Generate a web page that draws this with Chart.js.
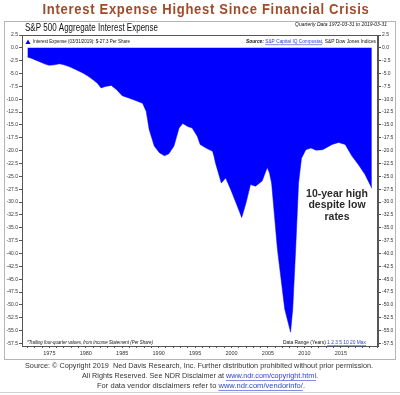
<!DOCTYPE html>
<html>
<head>
<meta charset="utf-8">
<script src="https://cdn.jsdelivr.net/npm/chart.js"></script>
<style>
  html, body { margin: 0; padding: 0; background: #fff; }
</style>
</head>
<body>
<canvas id="chart" width="400" height="395"></canvas>
<script>
'use strict'

// quarterly points (year, $ per share)
const years = [
  1972.0, 1972.5, 1973.0, 1973.5, 1974.0, 1974.5, 1975.0, 1975.7, 1976.4, 1977.0,
  1977.8, 1978.6, 1979.6, 1980.3, 1981.0, 1981.6, 1982.1, 1982.7, 1983.5, 1984.2,
  1985.0, 1986.0, 1987.1, 1987.8, 1988.3, 1988.7, 1989.4, 1990.1, 1990.8, 1991.4,
  1992.1, 1992.8, 1993.3, 1994.0, 1994.6, 1995.3, 1995.7, 1996.5, 1997.4, 1997.6,
  1997.8, 1998.6, 1999.2, 1999.9, 2000.6, 2001.4, 2002.0, 2002.6, 2003.3, 2004.2,
  2004.9, 2005.2, 2005.5, 2006.3, 2007.3, 2008.1, 2008.4, 2008.8, 2009.2, 2009.6,
  2010.2, 2010.9, 2011.6, 2012.5, 2013.8, 2014.7, 2015.6, 2016.5, 2017.4, 2018.3,
  2019.25
]
const interestExpense = [
  -1.8, -2.0, -2.3, -2.6, -2.9, -3.2, -3.4, -3.3, -3.1, -3.3,
  -3.7, -4.2, -4.9, -5.5, -6.2, -6.9, -7.8, -7.5, -7.3, -8.1,
  -9.3, -9.8, -10.4, -10.8, -12.4, -15.9, -19.1, -20.4, -21.0, -20.6,
  -19.1, -15.6, -14.7, -15.3, -15.6, -17.2, -18.8, -19.5, -20.1, -21.1,
  -22.4, -26.3, -25.3, -27.6, -30.1, -33.0, -30.1, -26.6, -26.9, -25.9,
  -23.3, -24.3, -26.3, -39.2, -50.8, -55.3, -50.8, -39.2, -26.3, -21.5,
  -19.8, -19.5, -19.9, -19.8, -18.8, -18.4, -18.8, -21.0, -22.7, -24.6,
  -27.3
]

const yTickValues = [
  2.5, 0, -2.5, -5, -7.5, -10, -12.5, -15, -17.5, -20, -22.5, -25, -27.5,
  -30, -32.5, -35, -37.5, -40, -42.5, -45, -47.5, -50, -52.5, -55, -57.5
]
const yearLabels = [1975, 1980, 1985, 1990, 1995, 2000, 2005, 2010, 2015]

const mainTitle = 'Interest Expense Highest Since Financial Crisis'
const chartTitle = 'S&P 500 Aggregate Interest Expense'
const noteLines = ['10-year high', 'despite low', 'rates']

const BLUE = '#0000ff'
const LINK = '#2b3fd6'
const AXIS = '#555'
const SANS = '"Liberation Sans", Arial, sans-serif'

// draws a row of text pieces; when fitWidth is given the row is squeezed to that width
function drawRuns(ctx, runs, x, y, align, fitWidth) {
  let total = 0
  runs.forEach(r => {
    ctx.font = r.font
    r.w = ctx.measureText(r.text).width
    total += r.w
  })
  const sx = fitWidth ? fitWidth / total : 1
  const width = total * sx
  const startX = align === 'center' ? x - width / 2 : align === 'right' ? x - width : x

  ctx.save()
  ctx.translate(startX, 0)
  ctx.scale(sx, 1)
  ctx.textAlign = 'left'
  ctx.textBaseline = 'middle'
  let cx = 0
  runs.forEach(r => {
    ctx.font = r.font
    ctx.fillStyle = r.color
    ctx.fillText(r.text, cx, y)
    if (r.underline)
      ctx.fillRect(cx, y + r.size * 0.5, r.w, 0.6)
    cx += r.w
  })
  ctx.restore()
}

const small = (text, opts = {}) => ({
  text,
  font: (opts.style || '') + ' 5px ' + SANS,
  color: opts.color || '#111',
  size: 5,
  underline: !!opts.underline
})

const decorations = {
  id: 'decorations',
  beforeDraw(chart) {
    const ctx = chart.ctx
    ctx.save()
    ctx.fillStyle = '#fff'
    ctx.fillRect(0, 0, chart.width, chart.height)
    ctx.restore()
  },
  afterDraw(chart) {
    const ctx = chart.ctx
    const a = chart.chartArea
    ctx.save()

    // plot box and outer frame
    ctx.strokeStyle = AXIS
    ctx.lineWidth = 1
    ctx.strokeRect(a.left + 0.5, a.top + 0.5, a.right - a.left - 1, a.bottom - a.top)
    ctx.strokeStyle = '#b5b5b5'
    ctx.strokeRect(4.5, 21.5, 391, 338)
    ctx.strokeStyle = '#d0d0d0'
    ctx.beginPath()
    ctx.moveTo(0, 392.5)
    ctx.lineTo(400, 392.5)
    ctx.stroke()

    // headline
    ctx.letterSpacing = '0.8px'
    drawRuns(ctx, [{ text: mainTitle, font: 'bold 15px ' + SANS, color: '#a04a2a', size: 15 }], 206, 10, 'center', 327)
    ctx.letterSpacing = '0px'

    drawRuns(ctx, [{ text: chartTitle, font: '10px ' + SANS, color: '#111', size: 10 }], 25, 28.5, 'left', 133)
    drawRuns(ctx, [small('Quarterly Data 1972-03-31 to 2019-03-31', { style: 'italic' })], 387, 25, 'right', 92)

    // legend row
    ctx.fillStyle = BLUE
    ctx.beginPath()
    ctx.moveTo(28, 39.5)
    ctx.lineTo(30.5, 44)
    ctx.lineTo(25.5, 44)
    ctx.closePath()
    ctx.fill()
    drawRuns(ctx, [small('Interest Expense (03/31/2019): $-27.3 Per Share')], 33, 42, 'left', 97)
    drawRuns(ctx, [
      small('Source: ', { style: 'bold italic' }),
      small('S&P Capital IQ Compustat', { color: LINK, underline: true }),
      small(', S&P Dow Jones Indices')
    ], 376, 42, 'right', 130)

    // bottom notes inside the plot
    drawRuns(ctx, [small('*Trailing four-quarter values, from Income Statement (Per Share)', { style: 'italic' })], 27, 343, 'left', 126)
    drawRuns(ctx, [
      small('Data Range (Years) '),
      small('1 2 3 5 10 20 Max', { color: LINK, underline: true })
    ], 283, 343, 'left', 83)

    // annotation
    noteLines.forEach((line, i) => {
      drawRuns(ctx, [{ text: line, font: 'bold 10.5px ' + SANS, color: '#2a2a2a', size: 10.5 }], 337, 194 + i * 11.5, 'center')
    })

    // footer
    const f = '7.2px ' + SANS
    const part = (text, link) => ({ text, font: f, color: link ? LINK : '#333', size: 7.2, underline: link })
    drawRuns(ctx, [part('Source: \u00a9 Copyright 2019  Ned Davis Research, Inc. Further distribution prohibited without prior permission.')], 199, 366, 'center', 348)
    drawRuns(ctx, [
      part('All Rights Reserved. See NDR Disclaimer at '),
      part('www.ndr.com/copyright.html', true),
      part('.')
    ], 200, 376.5, 'center', 236)
    drawRuns(ctx, [
      part('For data vendor disclaimers refer to '),
      part('www.ndr.com/vendorinfo/', true),
      part('.')
    ], 201, 386.5, 'center', 208)

    ctx.restore()
  }
}

const yAxis = position => ({
  position,
  min: -58,
  max: 2.5,
  afterBuildTicks: s => { s.ticks = yTickValues.map(v => ({ value: v })) },
  afterFit: s => { s.width = 22 },
  ticks: {
    callback: v => v.toFixed(1),
    font: { size: 5, family: SANS },
    color: '#333',
    padding: 1
  },
  grid: { drawOnChartArea: false, tickLength: 3, color: AXIS },
  border: { color: AXIS }
})

new Chart(document.getElementById('chart'), {
  type: 'line',
  data: {
    datasets: [{
      data: years.map((x, i) => ({ x, y: interestExpense[i] })),
      fill: 'origin',
      backgroundColor: BLUE,
      borderColor: BLUE,
      borderWidth: 0.5,
      pointRadius: 0,
      tension: 0
    }]
  },
  options: {
    responsive: false,
    animation: false,
    layout: { padding: { top: 35, left: 0, right: 0, bottom: 37 } },
    plugins: { legend: { display: false }, tooltip: { enabled: false } },
    scales: {
      x: {
        type: 'linear',
        min: 1971.25,
        max: 2020.1,
        afterFit: s => { s.height = 12 },
        ticks: {
          stepSize: 1,
          includeBounds: false,
          autoSkip: false,
          maxRotation: 0,
          callback: v => yearLabels.includes(v) ? String(v) : '',
          font: { size: 5.5, family: SANS },
          color: '#333',
          padding: 2
        },
        grid: { drawOnChartArea: false, tickLength: 2, color: AXIS },
        border: { color: AXIS }
      },
      y: yAxis('left'),
      y2: yAxis('right')
    }
  },
  plugins: [decorations]
})
</script>
</body>
</html>
